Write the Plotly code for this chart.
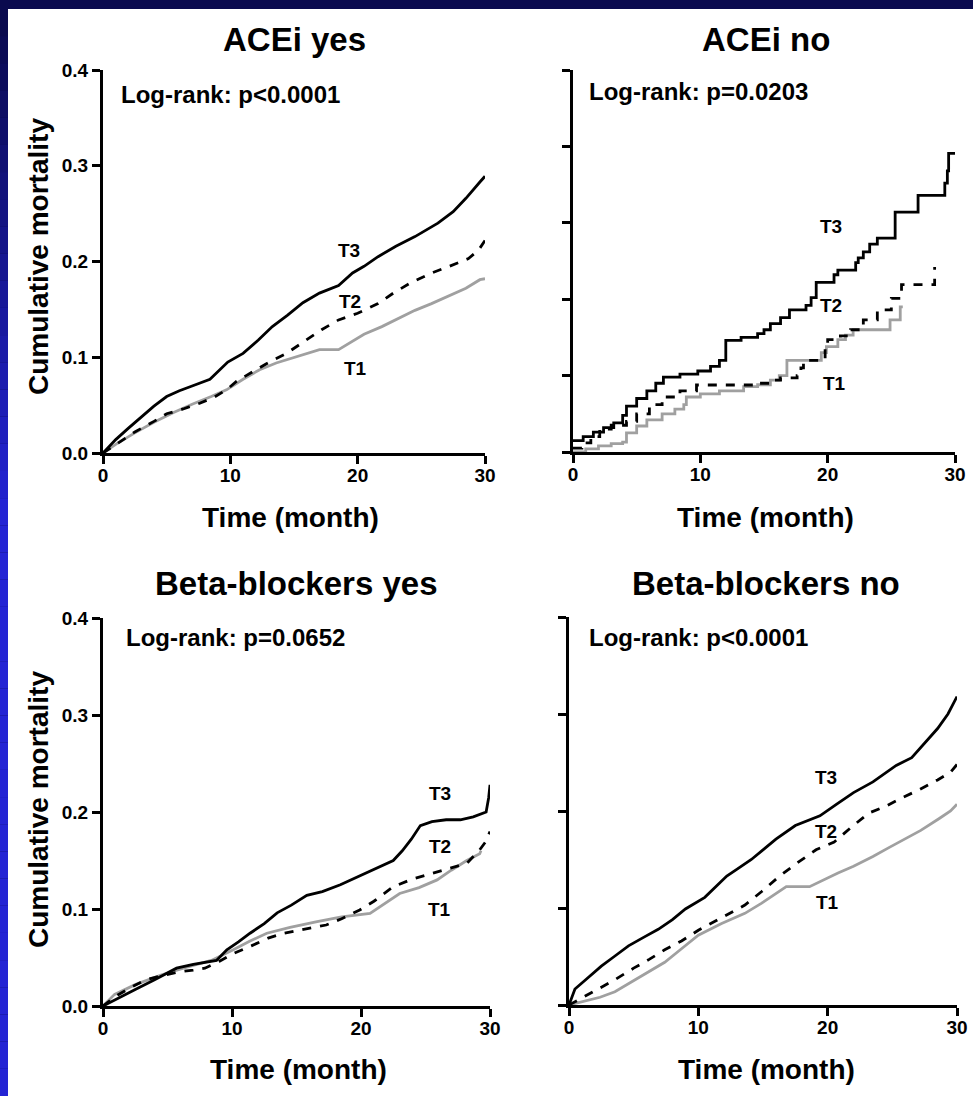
import plotly.graph_objects as go

# ---------------- data ----------------
# ACEi yes
ay_t3_t = [0, 1, 2, 3, 4, 5, 6, 7, 8.4, 9.8, 11.0, 12.2, 13.3, 14.5, 15.7, 17.0, 18.5, 19.6, 20.5, 21.6, 23.0, 24.5, 26.3, 27.5, 28.5, 29.6, 30]
ay_t3_y = [0, 0.014, 0.026, 0.038, 0.049, 0.059, 0.065, 0.070, 0.077, 0.095, 0.104, 0.118, 0.132, 0.144, 0.157, 0.167, 0.175, 0.188, 0.195, 0.205, 0.216, 0.226, 0.240, 0.252, 0.266, 0.283, 0.289]
ay_t2_t = [0, 1.1, 2.5, 4, 5, 6.3, 7.6, 8.7, 9.7, 10.5, 11.5, 12.8, 14.4, 16, 17.2, 18.5, 20, 21.6, 22.8, 24.2, 25.8, 27.2, 28.7, 29.5, 30]
ay_t2_y = [0, 0.010, 0.022, 0.033, 0.041, 0.046, 0.052, 0.058, 0.066, 0.075, 0.083, 0.093, 0.104, 0.118, 0.129, 0.139, 0.146, 0.156, 0.167, 0.178, 0.188, 0.195, 0.203, 0.212, 0.222]
ay_t1_t = [0, 1, 2.5, 4, 5.5, 7, 8.5, 9.7, 11, 12.3, 13.6, 15, 17, 18.5, 19.5, 20.5, 21.9, 23.3, 24.5, 25.8, 27.2, 28.5, 29.6, 30]
ay_t1_y = [0, 0.009, 0.021, 0.032, 0.042, 0.051, 0.059, 0.066, 0.077, 0.087, 0.094, 0.100, 0.108, 0.108, 0.116, 0.124, 0.132, 0.141, 0.149, 0.156, 0.164, 0.172, 0.181, 0.182]

# ACEi no (step curves)
an_t3_t = [0, 0.8, 1.6, 2.4, 3.2, 3.9, 4.2, 5.0, 5.8, 6.5, 7.1, 8.4, 9.8, 10.8, 11.5, 12.0, 13.2, 14.5, 15.0, 15.5, 16.3, 17.0, 18.3, 18.7, 19.1, 20.5, 20.8, 22.2, 22.4, 22.8, 23.3, 23.9, 25.3, 27.1, 29.2, 29.4, 29.5, 30.0]
an_t3_y = [0.015, 0.02, 0.026, 0.032, 0.038, 0.048, 0.060, 0.070, 0.080, 0.090, 0.098, 0.102, 0.106, 0.112, 0.120, 0.146, 0.150, 0.155, 0.160, 0.168, 0.176, 0.186, 0.192, 0.202, 0.222, 0.232, 0.238, 0.248, 0.254, 0.262, 0.272, 0.280, 0.314, 0.336, 0.352, 0.368, 0.391, 0.391]
an_t2_t = [0, 0.7, 1.4, 2.1, 3.0, 4.2, 5.0, 6.0, 7.0, 8.4, 9.7, 14.4, 15.5, 16.3, 17.6, 17.9, 18.1, 19.8, 20.0, 21.0, 21.8, 22.8, 23.9, 25.0, 25.8, 28.4]
an_t2_y = [0.005, 0.012, 0.02, 0.03, 0.035, 0.040, 0.05, 0.062, 0.072, 0.080, 0.0877, 0.090, 0.094, 0.097, 0.10, 0.110, 0.120, 0.135, 0.147, 0.152, 0.160, 0.173, 0.186, 0.201, 0.219, 0.242]
an_t1_t = [0, 1.0, 2.0, 3.0, 3.9, 4.2, 5.0, 5.8, 7.0, 8.0, 8.7, 8.9, 10.0, 11.5, 13.4, 14.5, 15.5, 16.2, 16.8, 19.5, 19.9, 20.8, 21.4, 22.0, 24.9, 25.7, 25.9]
an_t1_y = [0.0, 0.004, 0.008, 0.011, 0.013, 0.025, 0.034, 0.042, 0.05, 0.056, 0.062, 0.072, 0.076, 0.080, 0.0855, 0.088, 0.094, 0.10, 0.120, 0.130, 0.138, 0.147, 0.153, 0.160, 0.173, 0.190, 0.190]

# Beta-blockers yes
by_t3_t = [0, 1, 2.5, 4, 5.7, 7, 8.8, 9.6, 10.5, 11.4, 12.5, 13.5, 14.6, 15.8, 17, 18.4, 19.4, 20.4, 21.4, 22.5, 23.2, 23.9, 24.6, 25.5, 26.6, 27.7, 28.7, 29.7, 29.9, 30]
by_t3_y = [0, 0.007, 0.017, 0.027, 0.039, 0.043, 0.047, 0.058, 0.066, 0.075, 0.085, 0.096, 0.104, 0.114, 0.118, 0.125, 0.131, 0.137, 0.143, 0.150, 0.160, 0.172, 0.186, 0.190, 0.192, 0.192, 0.195, 0.200, 0.215, 0.228]
by_t2_t = [0, 0.93, 2, 3.3, 4.5, 5.8, 7, 7.9, 9, 10.1, 11.5, 12.8, 14.0, 15.5, 17.3, 18.5, 19.9, 21, 22.5, 24, 25.6, 27, 28.2, 29.2, 29.7, 30]
by_t2_y = [0, 0.0096, 0.018, 0.027, 0.031, 0.035, 0.037, 0.039, 0.046, 0.054, 0.062, 0.070, 0.075, 0.079, 0.0835, 0.090, 0.099, 0.108, 0.123, 0.131, 0.137, 0.142, 0.147, 0.161, 0.170, 0.180]
by_t1_t = [0, 0.9, 2.5, 4.5, 6.5, 8.4, 10.1, 11.4, 12.7, 14.5, 16.6, 18.5, 20.7, 21.8, 23.0, 24.5, 25.9, 27, 28.2, 29.2, 29.3]
by_t1_y = [0, 0.012, 0.022, 0.032, 0.040, 0.047, 0.058, 0.067, 0.075, 0.081, 0.087, 0.092, 0.0955, 0.105, 0.116, 0.122, 0.130, 0.140, 0.150, 0.157, 0.16]

# Beta-blockers no
bn_t3_t = [0, 0.46, 1.2, 2.5, 3.5, 4.6, 5.8, 6.9, 8, 9, 10.5, 12.2, 13, 14.1, 15, 16, 17.5, 19.4, 20.7, 22, 23.5, 25.3, 26.5, 27.4, 28.5, 29.3, 30]
bn_t3_y = [0, 0.0165, 0.025, 0.040, 0.050, 0.061, 0.070, 0.078, 0.088, 0.099, 0.111, 0.133, 0.140, 0.150, 0.160, 0.171, 0.185, 0.195, 0.207, 0.219, 0.230, 0.247, 0.255, 0.268, 0.285, 0.300, 0.318]
bn_t2_t = [0, 1.2, 2.4, 3.55, 5, 6.2, 7.4, 8.7, 10, 11.8, 13.6, 14.9, 16.2, 17.6, 19.1, 20.5, 21.8, 23.2, 24.5, 25.8, 27.1, 28.5, 29.5, 30]
bn_t2_y = [0, 0.0086, 0.018, 0.026, 0.038, 0.047, 0.057, 0.066, 0.077, 0.090, 0.103, 0.117, 0.132, 0.146, 0.160, 0.168, 0.183, 0.198, 0.205, 0.214, 0.222, 0.232, 0.240, 0.248]
bn_t1_t = [0, 1.2, 2.4, 3.55, 5, 6.2, 7.4, 8.7, 10, 11.8, 13.6, 14.9, 16.2, 16.8, 18.6, 19.5, 20.8, 22, 23.5, 24.7, 25.8, 27.2, 28.6, 29.5, 30]
bn_t1_y = [0, 0.004, 0.008, 0.0137, 0.025, 0.034, 0.044, 0.058, 0.072, 0.084, 0.0945, 0.105, 0.117, 0.122, 0.122, 0.128, 0.136, 0.143, 0.153, 0.162, 0.170, 0.180, 0.192, 0.200, 0.207]

panel_titles = ["ACEi yes", "ACEi no", "Beta-blockers yes", "Beta-blockers no"]
pvalues = ["Log-rank: p<0.0001", "Log-rank: p=0.0203", "Log-rank: p=0.0652", "Log-rank: p<0.0001"]
group_names = ["T3", "T2", "T1"]
# label positions (data coords) for T3, T2, T1 in each panel
label_t = [[19.3, 19.4, 19.8], [20.3, 20.3, 20.5], [26.1, 26.1, 26.1], [19.9, 19.9, 20.0]]
label_y = [[0.211, 0.158, 0.088], [0.295, 0.192, 0.090], [0.219, 0.164, 0.099], [0.235, 0.179, 0.106]]
x_ticks = [0, 10, 20, 30]
y_ticks = [0, 0.1, 0.2, 0.3, 0.4]
y_ticks_5 = [0, 0.1, 0.2, 0.3, 0.4, 0.5]

W, H = 973, 1096
def PX(x): return x / W
def PY(y): return 1 - y / H

FONT = "Liberation Sans, Arial, Helvetica, sans-serif"

fig = go.Figure()

panels = [
    (ay_t3_t, ay_t3_y, ay_t2_t, ay_t2_y, ay_t1_t, ay_t1_y, "linear"),
    (an_t3_t, an_t3_y, an_t2_t, an_t2_y, an_t1_t, an_t1_y, "hv"),
    (by_t3_t, by_t3_y, by_t2_t, by_t2_y, by_t1_t, by_t1_y, "linear"),
    (bn_t3_t, bn_t3_y, bn_t2_t, bn_t2_y, bn_t1_t, bn_t1_y, "linear"),
]
styles = [dict(color="black", dash="solid"), dict(color="black", dash="dash"), dict(color="#a0a0a0", dash="solid")]

for i, p in enumerate(panels):
    xa = "x" if i == 0 else f"x{i+1}"
    ya = "y" if i == 0 else f"y{i+1}"
    shape = p[6]
    for k in [2, 1, 0]:
        fig.add_trace(go.Scatter(
            x=p[2*k], y=p[2*k+1], mode="lines", xaxis=xa, yaxis=ya,
            line=dict(color=styles[k]["color"], dash=styles[k]["dash"], width=2.8, shape=shape),
            showlegend=False, hoverinfo="skip"))

# axis domains in pixels: (x0, x1, ytop, ybottom)
doms = [(103, 485, 70, 453), (573, 955, 70, 452), (103, 490, 618, 1006), (569, 957, 617, 1005)]

axis_common = dict(showline=True, linewidth=3, linecolor="black", ticks="outside", ticklen=8,
                   tickwidth=3, tickcolor="black", showgrid=False, zeroline=False, automargin=False,
                   tickfont=dict(family=FONT, size=19, color="black", weight="bold"))
layout = {}
for i, (x0, x1, yt, yb) in enumerate(doms):
    xk = "xaxis" if i == 0 else f"xaxis{i+1}"
    yk = "yaxis" if i == 0 else f"yaxis{i+1}"
    ya = "y" if i == 0 else f"y{i+1}"
    xa = "x" if i == 0 else f"x{i+1}"
    layout[xk] = dict(axis_common, domain=[PX(x0), PX(x1)], range=[0, 30], tickvals=x_ticks,
                      anchor=ya, ticklabelstandoff=-5)
    if i == 1:
        yt_vals = y_ticks_5
        yr = [0, 0.5]
    else:
        yt_vals = y_ticks
        yr = [0, 0.4]
    layout[yk] = dict(axis_common, domain=[PY(yb), PY(yt)], range=yr, tickvals=yt_vals,
                      ticktext=[f"{v:.1f}" for v in yt_vals], anchor=xa,
                      showticklabels=(i % 2 == 0))

annotations = []
title_pos = [(294, 40), (766, 40), (296, 583), (766, 583)]
for t, (x, y) in zip(panel_titles, title_pos):
    annotations.append(dict(text=t, x=PX(x), y=PY(y), xref="paper", yref="paper",
                            xanchor="center", yanchor="middle", showarrow=False,
                            font=dict(family=FONT, size=33, color="black", weight="bold")))
p_pos = [(119, 94), (587, 92), (124, 637), (587, 637)]
for t, (x, y) in zip(pvalues, p_pos):
    annotations.append(dict(text=t, x=PX(x), y=PY(y), xref="paper", yref="paper",
                            xanchor="left", yanchor="middle", showarrow=False,
                            font=dict(family=FONT, size=24, color="black", weight="bold")))
xt_pos = [(290, 517), (765, 517), (298, 1069), (766, 1069)]
for (x, y) in xt_pos:
    annotations.append(dict(text="Time (month)", x=PX(x), y=PY(y), xref="paper", yref="paper",
                            xanchor="center", yanchor="middle", showarrow=False,
                            font=dict(family=FONT, size=28, color="black", weight="bold")))
for (x, y) in [(38, 257), (38, 810)]:
    annotations.append(dict(text="Cumulative mortality", x=PX(x), y=PY(y), xref="paper", yref="paper",
                            xanchor="center", yanchor="middle", showarrow=False, textangle=-90,
                            font=dict(family=FONT, size=28, color="black", weight="bold")))
for i in range(4):
    xa = "x" if i == 0 else f"x{i+1}"
    ya = "y" if i == 0 else f"y{i+1}"
    for k in range(3):
        annotations.append(dict(text=group_names[k], x=label_t[i][k], y=label_y[i][k], xref=xa, yref=ya,
                                xanchor="center", yanchor="middle", showarrow=False,
                                font=dict(family=FONT, size=19, color="black", weight="bold")))

# frame: dark blue background with gradient left strip and white page
shapes = []
shapes.append(dict(type="rect", xref="paper", yref="paper", x0=PX(8), x1=1.0, y0=0.0, y1=PY(9),
                   fillcolor="white", line=dict(width=0), layer="below"))
nb = 40
c0 = (10, 10, 78)
c1 = (36, 36, 212)
for b in range(nb):
    f = min(1.0, (b / nb) / 0.45)
    c = tuple(int(c0[j] + (c1[j] - c0[j]) * f) for j in range(3))
    shapes.append(dict(type="rect", xref="paper", yref="paper", x0=0, x1=PX(8),
                       y0=PY(9 + (b + 1) * (H - 9) / nb), y1=PY(9 + b * (H - 9) / nb),
                       fillcolor=f"rgb{c}", line=dict(width=0), layer="below"))

fig.update_layout(width=W, height=H, margin=dict(l=0, r=0, t=0, b=0, pad=0, autoexpand=False),
                  paper_bgcolor="rgb(10,10,78)", plot_bgcolor="rgba(0,0,0,0)",
                  annotations=annotations, shapes=shapes, showlegend=False, **layout)

fig.write_html("out.html")
